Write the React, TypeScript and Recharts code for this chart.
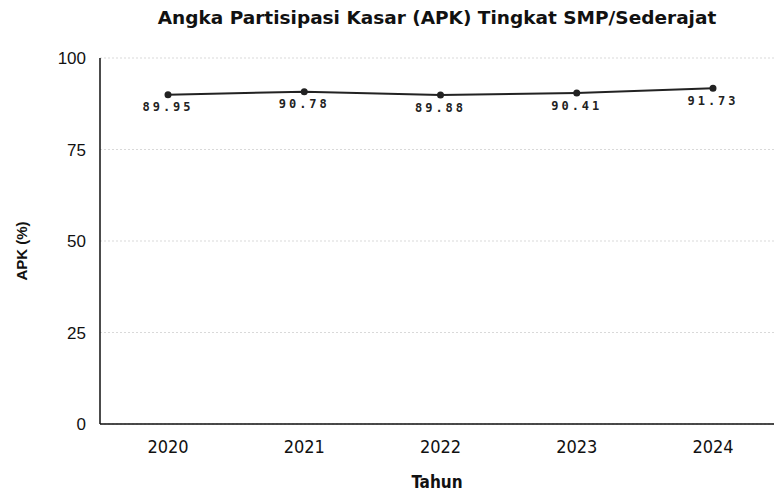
import { CartesianGrid, LabelList, Line, LineChart, XAxis, YAxis } from "recharts";

const years = ["2020", "2021", "2022", "2023", "2024"];
const apkValues = [89.95, 90.78, 89.88, 90.41, 91.73];
const yTicks = [0, 25, 50, 75, 100];

const chartData = years.map((year, i) => ({ year, apk: apkValues[i] }));

// y-axis title, drawn a bit below the plot's centre as in the scan
const renderYTitle = (props: any) => {
  const vb = props.viewBox || {};
  const x = (vb.x ?? 0) + 21;
  const y = (vb.y ?? 0) + (vb.height ?? 0) / 2 + 10;
  return (
    <text
      x={x}
      y={y}
      transform={`rotate(-90, ${x}, ${y})`}
      textAnchor="middle"
      dominantBaseline="central"
      fill="#111"
      fontSize={15}
      fontWeight="bold"
      fontFamily="'Liberation Sans', Arial, sans-serif"
    >
      APK (%)
    </text>
  );
};

export default function App() {
  return (
    <div style={{ position: "absolute", left: 0, top: 0, width: 774, height: 494, background: "#fff", overflow: "hidden" }}>
      <div
        style={{
          position: "absolute",
          top: 7,
          left: 100,
          width: 674,
          textAlign: "center",
          fontFamily: "'DejaVu Sans', sans-serif",
          fontWeight: "bold",
          fontSize: 18.5,
          color: "#111",
        }}
      >
        Angka Partisipasi Kasar (APK) Tingkat SMP/Sederajat
      </div>
      <LineChart width={774} height={494} data={chartData} margin={{ top: 58, right: 0, left: 0, bottom: 0 }}>
        <CartesianGrid vertical={false} stroke="#d9d9d9" strokeDasharray="2 2" />
        <XAxis
          dataKey="year"
          scale="point"
          padding={{ left: 68, right: 61 }}
          height={70}
          stroke="#111"
          strokeWidth={1.5}
          tickLine={false}
          tickMargin={10}
          tick={{ fontSize: 18, fill: "#111", fontFamily: "'Liberation Sans Narrow', 'DejaVu Sans Condensed', sans-serif" }}
          label={{
            value: "Tahun",
            position: "insideBottom",
            offset: 6,
            fill: "#111",
            fontSize: 17,
            fontWeight: "bold",
            fontFamily: "'Liberation Sans Narrow', 'DejaVu Sans Condensed', sans-serif",
          }}
        />
        <YAxis
          domain={[0, 100]}
          ticks={yTicks}
          width={100}
          stroke="#111"
          strokeWidth={1.5}
          tickLine={false}
          tickMargin={8}
          tick={{ fontSize: 17, fill: "#111", fontFamily: "'Liberation Sans', Arial, sans-serif" }}
          label={{ content: renderYTitle }}
        />
        <Line
          type="linear"
          dataKey="apk"
          stroke="#222"
          strokeWidth={2}
          dot={{ r: 2.5, fill: "#222", stroke: "#222" }}
          activeDot={false}
          isAnimationActive={false}
        >
          <LabelList
            dataKey="apk"
            position="bottom"
            offset={8}
            formatter={(v: number) => v.toFixed(2)}
            style={{
              fontSize: 12,
              fontWeight: "bold",
              fill: "#222",
              fontFamily: "'DejaVu Sans Mono', monospace",
              letterSpacing: 3,
            }}
          />
        </Line>
      </LineChart>
    </div>
  );
}
